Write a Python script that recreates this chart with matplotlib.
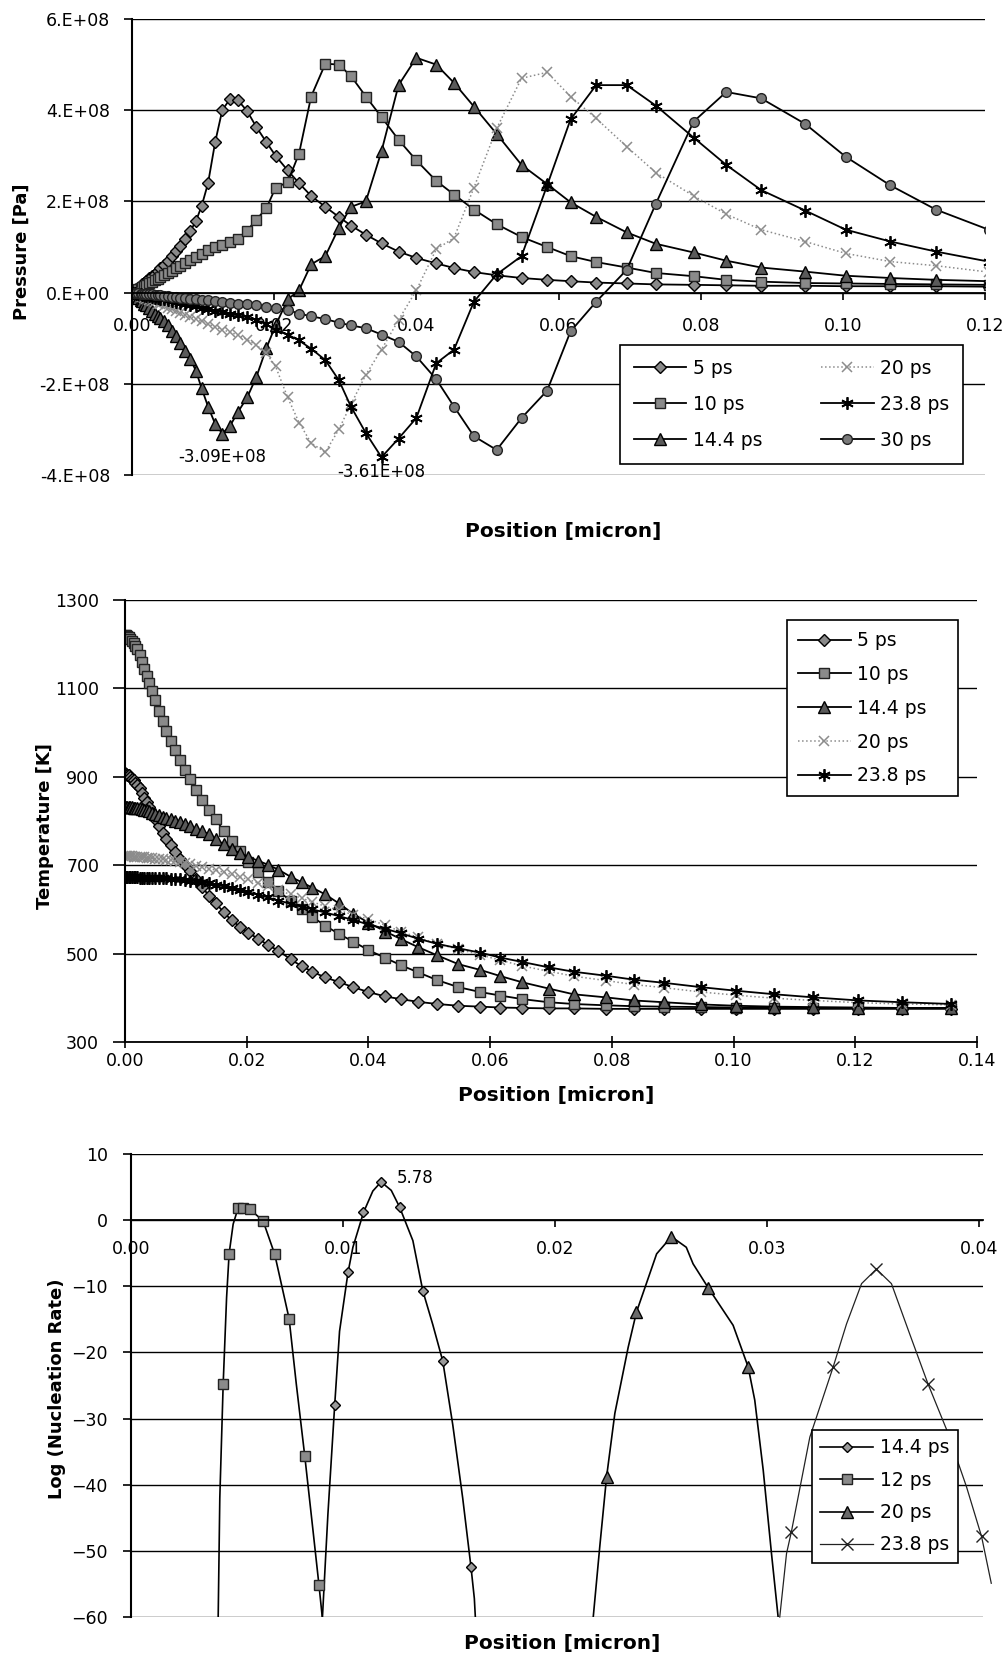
import matplotlib
matplotlib.use('Agg')
import matplotlib.pyplot as plt
from matplotlib.lines import Line2D
import numpy as np

plt.rcParams['font.family'] = 'DejaVu Sans'

# mesh node positions [micron] (same mesh for pressure and temperature runs)
pos = [0.0, 0.0002, 0.0004, 0.0006, 0.0009, 0.0012, 0.0014, 0.0017, 0.0020, 0.0024,
       0.0028, 0.0032, 0.0036, 0.0040, 0.0045, 0.0050, 0.0056, 0.0062, 0.0068, 0.0075,
       0.0082, 0.0090, 0.0098, 0.0107, 0.0117, 0.0127, 0.0138, 0.0149, 0.0162, 0.0175,
       0.0189, 0.0202, 0.0219, 0.0235, 0.0252, 0.0272, 0.0291, 0.0308, 0.0329, 0.0351,
       0.0375, 0.0400, 0.0428, 0.0453, 0.0481, 0.0513, 0.0548, 0.0584, 0.0617, 0.0653,
       0.0696, 0.0737, 0.0790, 0.0836, 0.0885, 0.0947, 0.1004, 0.1067, 0.1131, 0.1205,
       0.1276, 0.1358]

# ---- pressure [1e8 Pa]
p_5 = [0, 0.02, 0.05, 0.07, 0.11, 0.15, 0.18, 0.22, 0.26, 0.31, 0.36, 0.41, 0.47, 0.53,
       0.61, 0.70, 0.81, 0.92, 1.03, 1.18, 1.35, 1.57, 1.90, 2.40, 3.30, 4.00, 4.25, 4.22,
       3.98, 3.63, 3.30,
       3.00, 2.68, 2.40, 2.12, 1.88, 1.66, 1.47, 1.27, 1.08, 0.90, 0.76, 0.64, 0.54, 0.45,
       0.38, 0.32, 0.28, 0.25, 0.22, 0.20, 0.18, 0.17, 0.16, 0.15, 0.15, 0.14, 0.14, 0.14,
       0.13, 0.13, 0.13]
p_10 = [0, 0.02, 0.03, 0.05, 0.08, 0.10, 0.12, 0.14, 0.17, 0.20, 0.23, 0.27, 0.30, 0.34,
        0.38, 0.42, 0.47, 0.54, 0.59, 0.65, 0.71, 0.78, 0.85, 0.93, 1.00, 1.05, 1.11, 1.18,
        1.36, 1.60, 1.85,
        2.30, 2.42, 3.05, 4.30, 5.02, 5.00, 4.75, 4.30, 3.85, 3.35, 2.90, 2.45, 2.15, 1.82,
        1.50, 1.22, 1.00, 0.80, 0.67, 0.55, 0.43, 0.36, 0.28, 0.24, 0.21, 0.20, 0.19, 0.18,
        0.17, 0.17, 0.16]
p_14 = [0, -0.03, -0.05, -0.08, -0.12, -0.16, -0.19, -0.24, -0.28, -0.34, -0.40, -0.46,
        -0.51, -0.56, -0.62, -0.72, -0.84, -0.96, -1.10, -1.28, -1.45, -1.72, -2.10, -2.50,
        -2.88, -3.09, -2.92, -2.62, -2.30, -1.85, -1.22,
        -0.72, -0.15, 0.05, 0.62, 0.80, 1.42, 1.88, 2.00, 3.10, 4.55, 5.15, 5.00, 4.60, 4.08,
        3.48, 2.80, 2.38, 1.98, 1.66, 1.32, 1.07, 0.88, 0.70, 0.55, 0.46, 0.37, 0.32, 0.28,
        0.25, 0.23, 0.21]
p_20 = [0, -0.01, -0.03, -0.04, -0.06, -0.08, -0.09, -0.11, -0.13, -0.16, -0.19, -0.21,
        -0.24, -0.26, -0.30, -0.33, -0.37, -0.41, -0.44, -0.49, -0.53, -0.58, -0.63, -0.69,
        -0.75, -0.81, -0.87, -0.93, -1.03, -1.15, -1.33,
        -1.62, -2.30, -2.85, -3.30, -3.50, -3.00, -2.45, -1.80, -1.25, -0.60, 0.05, 0.95,
        1.20, 2.30, 3.60, 4.70, 4.83, 4.30, 3.82, 3.20, 2.63, 2.12, 1.72, 1.38, 1.12, 0.86,
        0.68, 0.59, 0.45, 0.38, 0.32]
p_23 = [0, -0.01, -0.01, -0.02, -0.03, -0.04, -0.05, -0.06, -0.07, -0.08, -0.09, -0.11,
        -0.12, -0.13, -0.15, -0.17, -0.18, -0.20, -0.22, -0.25, -0.27, -0.30, -0.33, -0.36,
        -0.40, -0.43, -0.47, -0.50, -0.54, -0.60, -0.69,
        -0.83, -0.92, -1.05, -1.23, -1.48, -1.92, -2.50, -3.08, -3.61, -3.20, -2.75, -1.55,
        -1.25, -0.20, 0.40, 0.80, 2.35, 3.80, 4.55, 4.55, 4.10, 3.40, 2.80, 2.25, 1.80, 1.38,
        1.12, 0.90, 0.68, 0.55, 0.45]
p_30 = [0, 0, -0.01, -0.01, -0.01, -0.02, -0.02, -0.03, -0.03, -0.04, -0.04, -0.05, -0.06,
        -0.06, -0.07, -0.08, -0.09, -0.10, -0.11, -0.12, -0.13, -0.14, -0.16, -0.17, -0.19,
        -0.21, -0.23, -0.24, -0.26, -0.28, -0.31,
        -0.34, -0.38, -0.46, -0.52, -0.58, -0.66, -0.72, -0.78, -0.92, -1.08, -1.40, -1.90,
        -2.50, -3.15, -3.45, -2.75, -2.15, -0.85, -0.20, 0.50, 1.95, 3.75, 4.40, 4.26, 3.70,
        2.98, 2.35, 1.82, 1.38, 1.05, 0.80]
p_ticks = [-4e8, -2e8, 0, 2e8, 4e8, 6e8]
p_ticklabels = ['-4.E+08', '-2.E+08', '0.E+00', '2.E+08', '4.E+08', '6.E+08']

# ---- temperature [K]
t_5 = [908, 907, 905, 903, 899, 895, 892, 887, 882, 875, 864, 853, 843, 832, 817, 804,
       788, 773, 760, 745, 730, 715, 701, 687, 669, 650, 631, 614, 594, 575, 561,
       547, 534, 519, 507, 487, 471, 459, 446, 436, 424, 413, 403, 397, 391, 386, 382,
       380, 378, 377, 376, 376, 375, 375, 375, 375, 375, 375, 375, 375, 375, 375]
t_10 = [1221, 1220, 1219, 1217, 1212, 1207, 1203, 1197, 1189, 1175, 1160, 1144, 1129,
        1113, 1094, 1073, 1049, 1026, 1004, 982, 961, 937, 916, 894, 870, 847, 826, 804,
        778, 755, 731,
        708, 684, 663, 641, 620, 600, 583, 563, 545, 527, 508, 490, 474, 458, 440, 424,
        413, 405, 397, 390, 386, 383, 381, 380, 379, 378, 378, 377, 377, 377, 377]
t_14 = [832, 832, 832, 832, 831, 831, 830, 830, 829, 829, 828, 826, 825, 822, 819, 816,
        813, 810, 807, 804, 800, 797, 793, 788, 782, 777, 770, 760, 747, 736, 727,
        719, 710, 701, 690, 674, 661, 649, 634, 614, 590, 570, 550, 533, 515, 496, 476,
        463, 449, 435, 421, 408, 401, 394, 390, 385, 382, 380, 379, 378, 377, 377]
t_20 = [720, 720, 720, 720, 720, 720, 719, 719, 719, 719, 718, 718, 717, 716, 716, 715,
        715, 714, 712, 711, 709, 707, 704, 702, 699, 696, 692, 689, 684, 679, 673,
        668, 660, 652, 643, 634, 625, 617, 607, 598, 588, 578, 564, 550, 537, 522, 510,
        497, 485, 472, 460, 449, 439, 430, 423, 413, 406, 399, 394, 389, 386, 384]
t_23 = [673, 673, 673, 673, 673, 673, 673, 673, 673, 672, 672, 672, 672, 671, 671, 671,
        670, 670, 670, 669, 669, 668, 667, 665, 664, 661, 659, 656, 652, 648, 643,
        639, 633, 627, 620, 613, 606, 600, 593, 585, 576, 566, 556, 546, 534, 522, 512,
        502, 491, 481, 469, 459, 450, 441, 434, 424, 416, 408, 401, 394, 390, 386]

# ---- log nucleation rate (values below -60 run off the axis)
n14_x = [0.00890, 0.00903, 0.00929, 0.00961, 0.00984, 0.01024, 0.01047, 0.01097, 0.01141,
         0.01180, 0.01228, 0.01267, 0.01330, 0.01377, 0.01424, 0.01471, 0.01518, 0.01565,
         0.01604, 0.01620, 0.01625, 0.01635]
n14_y = [-75, -60.2, -44.5, -28.0, -16.8, -7.9, -4.1, 1.16, 4.4, 5.78, 4.5, 2.0, -3.1,
         -10.7, -15.8, -21.3, -30.9, -42.0, -52.4, -57.2, -60.2, -75]
n14_mk = [3, 5, 7, 9, 11, 13, 15, 18]
n12_x = [0.00405, 0.00419, 0.00435, 0.00451, 0.00463, 0.00482, 0.00505, 0.00530, 0.00560,
         0.00623, 0.00678, 0.00746, 0.00780, 0.00820, 0.00859, 0.00887, 0.00903, 0.00920]
n12_y = [-75, -42, -24.7, -11.7, -5.05, -0.6, 1.8, 1.9, 1.67, -0.1, -5.15, -14.9, -24.8,
         -35.7, -47.0, -55.2, -60.2, -75]
n12_mk = [2, 4, 6, 7, 8, 9, 10, 11, 13, 15]
n20_x = [0.02160, 0.02181, 0.02212, 0.02244, 0.02283, 0.02346, 0.02385, 0.02425, 0.02480,
         0.02550, 0.02620, 0.02652, 0.02723, 0.02841, 0.02912, 0.02943, 0.02983, 0.03022,
         0.03053, 0.03070]
n20_y = [-75, -60, -49.3, -38.8, -29.2, -19.2, -13.9, -10.2, -5.1, -2.5, -4.1, -6.6, -10.2,
         -15.9, -22.2, -27.2, -37.8, -50.4, -59.9, -75]
n20_mk = [3, 6, 9, 12, 14]
n23_x = [0.03061, 0.03093, 0.03116, 0.03203, 0.03313, 0.03376, 0.03447, 0.03517, 0.03588,
         0.03674, 0.03761, 0.03850, 0.03942, 0.04013, 0.04059]
n23_y = [-60, -50.4, -47.1, -32.8, -22.2, -15.7, -9.6, -7.4, -9.6, -17.2, -24.8, -31.8,
         -40.3, -47.8, -54.9]
n23_mk = [2, 4, 7, 10, 13]

W, H = 1007, 1657
fig = plt.figure(figsize=(W / 100, H / 100), dpi=100, facecolor='w')


def frac(l, t, r, b):
    return [l / W, 1 - b / H, (r - l) / W, (b - t) / H]


def base(ax, ylen, ypad):
    ax.spines['top'].set_visible(False)
    ax.spines['right'].set_visible(False)
    ax.spines['left'].set_linewidth(1.5)
    ax.spines['bottom'].set_linewidth(1.3)
    ax.yaxis.grid(True, color='k', lw=1.0)
    ax.set_axisbelow(True)
    ax.tick_params(axis='y', direction='out', length=ylen, width=1.2, pad=ypad, labelsize=12.5)
    ax.tick_params(axis='x', direction='out', length=5, width=1.2, pad=12.5, labelsize=12.5)


def legend(ax, handles, labels, l, t, r, ncol=1, ls=0.8, bp=0.6):
    leg = ax.legend(handles, labels, loc='upper left',
                    bbox_to_anchor=(l / W, 1 - (t + 10) / H, (r - l) / W, 10 / H),
                    bbox_transform=fig.transFigure, borderaxespad=0, ncol=ncol,
                    mode='expand', fontsize=13.5, handlelength=2.8, handletextpad=0.35,
                    labelspacing=ls, borderpad=bp, fancybox=False, framealpha=1,
                    edgecolor='k')
    leg.get_frame().set_linewidth(1.2)
    return leg


ast = (6, 2, 0)
sty = {
    '5': dict(marker='D', ms=6, mfc='#8a8a8a', mec='k', color='k', lw=1.3),
    '10': dict(marker='s', ms=7, mfc='#8a8a8a', mec='#222', color='k', lw=1.3),
    '14': dict(marker='^', ms=8, mfc='#5a5a5a', mec='k', color='k', lw=1.3),
    '20': dict(marker='x', ms=7.5, color='#8c8c8c', ls=':', lw=1.1, mew=1.1),
    '23': dict(marker=ast, ms=9, color='k', lw=1.3, mew=1.3),
    '30': dict(marker='o', ms=7, mfc='#7a7a7a', mec='#222', color='k', lw=1.3),
}

# ---------------- pressure
ax1 = fig.add_axes(frac(132, 19, 985, 475))
base(ax1, 5.8, 10)
ax1.spines['bottom'].set_position(('data', 0))
pres = [('5', p_5, '5 ps'), ('10', p_10, '10 ps'), ('14', p_14, '14.4 ps'),
        ('20', p_20, '20 ps'), ('23', p_23, '23.8 ps'), ('30', p_30, '30 ps')]
h1 = []
for key, vals, lab in pres:
    ln, = ax1.plot(pos, np.array(vals) * 1e8, **sty[key])
    h1.append(ln)
ax1.set_xlim(0, 0.12)
ax1.set_ylim(-4e8, 6e8)
ax1.set_yticks(p_ticks)
ax1.set_yticklabels(p_ticklabels)
ax1.set_xticks(np.arange(0, 0.121, 0.02))
ax1.xaxis.set_major_formatter(plt.FormatStrFormatter('%.2f'))
i14 = int(np.argmin(p_14))
i23 = int(np.argmin(p_23))
ax1.annotate('-3.09E+08', (pos[i14], p_14[i14] * 1e8), xytext=(0, -17),
             textcoords='offset points', ha='center', va='center', fontsize=12,
             annotation_clip=False)
ax1.annotate('-3.61E+08', (pos[i23], p_23[i23] * 1e8), xytext=(0, -11),
             textcoords='offset points', ha='center', va='center', fontsize=12,
             annotation_clip=False)
legend(ax1, h1, [p[2] for p in pres], 620, 345, 963, ncol=2, ls=0.92, bp=0.72)
fig.text(563 / W, 1 - 532 / H, 'Position [micron]', ha='center', va='center',
         fontsize=14.5, fontweight='bold')
fig.text(22 / W, 1 - 252 / H, 'Pressure [Pa]', ha='center', va='center', rotation=90,
         fontsize=13, fontweight='bold')

# ---------------- temperature
ax2 = fig.add_axes(frac(125, 600, 977, 1042))
base(ax2, 8.6, 10)
ax2.tick_params(axis='x', direction='inout', length=8, pad=3)
temp = [('5', t_5, '5 ps'), ('10', t_10, '10 ps'), ('14', t_14, '14.4 ps'),
        ('20', t_20, '20 ps'), ('23', t_23, '23.8 ps')]
h2 = []
for key, vals, lab in temp:
    ln, = ax2.plot(pos, vals, **sty[key])
    h2.append(ln)
ax2.set_xlim(0, 0.14)
ax2.set_ylim(300, 1300)
ax2.set_yticks(np.arange(300, 1301, 200))
ax2.set_xticks(np.arange(0, 0.141, 0.02))
ax2.xaxis.set_major_formatter(plt.FormatStrFormatter('%.2f'))
legend(ax2, h2, [t[2] for t in temp], 787, 620, 958, ls=0.79, bp=0.59)
fig.text(556 / W, 1 - 1095 / H, 'Position [micron]', ha='center', va='center',
         fontsize=14.5, fontweight='bold')
fig.text(45 / W, 1 - 826 / H, 'Temperature [K]', ha='center', va='center', rotation=90,
         fontsize=13, fontweight='bold')

# ---------------- nucleation rate
ax3 = fig.add_axes(frac(131, 1154, 983, 1617))
base(ax3, 5.8, 11)
ax3.tick_params(axis='x', pad=9.5)
ax3.spines['bottom'].set_position(('data', 0))
nsty = {
    '14': dict(marker='D', ms=5.5, mfc='#9a9a9a', mec='k', color='k', lw=1.2),
    '12': dict(marker='s', ms=7, mfc='#8a8a8a', mec='#222', color='k', lw=1.2),
    '20': dict(marker='^', ms=8, mfc='#6a6a6a', mec='k', color='k', lw=1.2),
    '23': dict(marker='x', ms=9, color='#222', lw=0.9, mew=1.0),
}
ax3.plot(n14_x, n14_y, markevery=n14_mk, **nsty['14'])
ax3.plot(n12_x, n12_y, markevery=n12_mk, **nsty['12'])
ax3.plot(n20_x, n20_y, markevery=n20_mk, **nsty['20'])
ax3.plot(n23_x, n23_y, markevery=n23_mk, clip_on=False, **nsty['23'])
ax3.set_xlim(0, 0.0402)
ax3.set_ylim(-60, 10)
ax3.set_yticks(np.arange(-60, 11, 10))
ax3.set_xticks([0, 0.01, 0.02, 0.03, 0.04])
ax3.xaxis.set_major_formatter(plt.FormatStrFormatter('%.2f'))
ax3.annotate('5.78', (n14_x[9], n14_y[9]), xytext=(11, 3), textcoords='offset points',
             ha='left', va='center', fontsize=12)
h3 = [Line2D([], [], **nsty[k]) for k in ['14', '12', '20', '23']]
legend(ax3, h3, ['14.4 ps', '12 ps', '20 ps', '23.8 ps'], 812, 1430, 958, ls=0.71, bp=0.45)
fig.text(562 / W, 1 - 1643 / H, 'Position [micron]', ha='center', va='center',
         fontsize=14.5, fontweight='bold')
fig.text(57 / W, 1 - 1389 / H, 'Log (Nucleation Rate)', ha='center', va='center',
         rotation=90, fontsize=13, fontweight='bold')

fig.savefig('out.png', dpi=100, facecolor='w')
